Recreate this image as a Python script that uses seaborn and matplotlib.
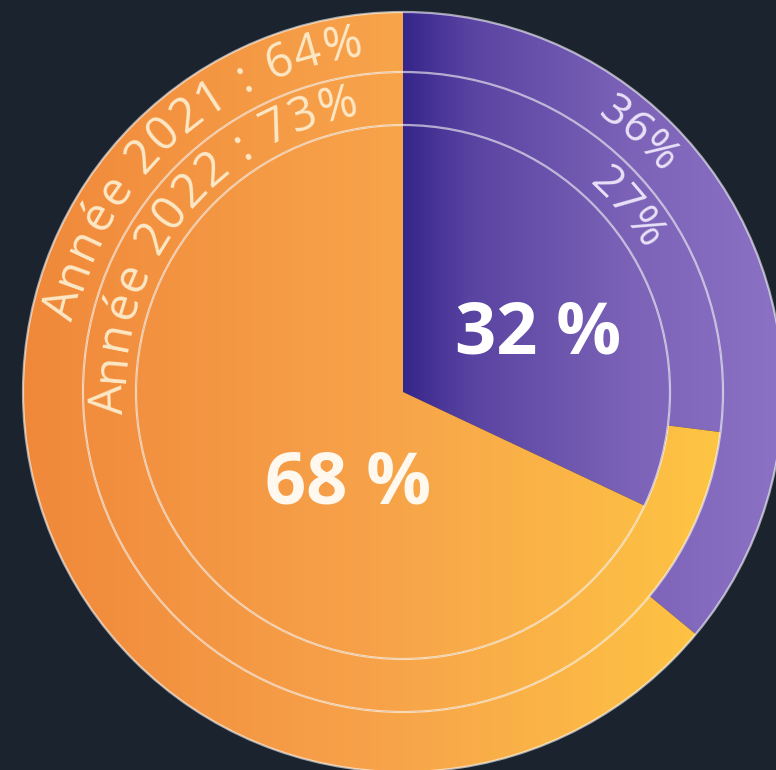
import numpy as np
import matplotlib
matplotlib.use('Agg')
import matplotlib.pyplot as plt
from matplotlib.colors import LinearSegmentedColormap
import seaborn as sns

sns.set_theme(style='white')
plt.rcParams['font.family'] = ['Open Sans', 'DejaVu Sans']

# Data
years = ['2021', '2022']
purple_share = [36, 27]      # outer ring (2021), middle ring (2022)
orange_share = [64, 73]
total_share = [32, 68]       # inner pie: purple, orange

bg = '#1a232e'
fig = plt.figure(figsize=(7.76, 7.70), dpi=100, facecolor=bg)
ax = fig.add_axes([0, 0, 1, 1])
ax.set_facecolor(bg)

R_OUT, R_MID, R_IN = 380, 320, 267

orange_cmap = sns.blend_palette(['#F0883A', '#F7A24A', '#FEC543'], as_cmap=True)
purple_cmap = LinearSegmentedColormap.from_list(
    'purp', [(0, '#36268A'), (0.18, '#5A44A2'), (0.6, '#7C63B8'), (1, '#8C72C4')])
grad = np.linspace(0, 1, 512)[None, :]

rings = [
    ([purple_share[0], orange_share[0]], R_OUT, R_OUT - R_MID),
    ([purple_share[1], orange_share[1]], R_MID, R_MID - R_IN),
    (total_share, R_IN, None),
]

for vals, r, w in rings:
    wp = dict(linewidth=0)
    if w is not None:
        wp['width'] = w
    wedges, _ = ax.pie(vals, radius=r, startangle=90, counterclock=False,
                       colors=['none', 'none'], wedgeprops=wp)
    # gradient fills clipped to each wedge
    im = ax.imshow(grad, cmap=purple_cmap, extent=(0, 380, -380, 392),
                   aspect='auto', zorder=1, interpolation='bicubic')
    im.set_clip_path(wedges[0])
    im = ax.imshow(grad, cmap=orange_cmap, extent=(-385, 322, -380, 392),
                   aspect='auto', zorder=1, interpolation='bicubic')
    im.set_clip_path(wedges[1])

for r in [R_OUT, R_MID, R_IN]:
    ax.add_patch(plt.Circle((0, 0), r, fill=False, ec='white', alpha=0.6,
                            lw=1.6, zorder=3))

ax.set_xlim(-403, 373)
ax.set_ylim(-378, 392)
ax.set_aspect('auto')
ax.axis('off')

renderer = fig.canvas.get_renderer()


def text_width(s, size, weight):
    t = ax.text(0, 0, s + '|', fontsize=size, weight=weight)
    wid = t.get_window_extent(renderer).width
    t.remove()
    return wid


def arc_text(s, r, theta_mid, size, color, weight='normal', track=0.0):
    bar = text_width('', size, weight)
    pref = [text_width(s[:i], size, weight) - bar + i * track
            for i in range(len(s) + 1)]
    total = pref[-1] - track
    for i, ch in enumerate(s):
        if ch == ' ':
            continue
        off = (pref[i] + pref[i + 1] - track) / 2 - total / 2
        ang = np.radians(theta_mid) - off / r
        ax.text(r * np.cos(ang), r * np.sin(ang), ch, fontsize=size,
                weight=weight, color=color, ha='center', va='center',
                rotation=np.degrees(ang) - 90, rotation_mode='anchor',
                zorder=4)


ring_font = 34
arc_text(f'Année {years[0]} : {orange_share[0]}%', 351, 132.3, ring_font,
         '#FDE8C6', track=3)
arc_text(f'Année {years[1]} : {orange_share[1]}%', 293, 141.7, ring_font,
         '#FDE8C6', track=3)
arc_text(f'{purple_share[0]}%', 349, 47.6, 32, '#E9E1F8', track=1)
arc_text(f'{purple_share[1]}%', 291, 39.4, 32, '#E9E1F8', track=1)

ax.text(135, 39, f'{total_share[0]} %', fontsize=52, weight='bold',
        color='white', ha='center', va='baseline', zorder=4)
ax.text(-55, -111, f'{total_share[1]} %', fontsize=52, weight='bold',
        color='#FFF8EE', ha='center', va='baseline', zorder=4)

fig.savefig('out.png', dpi=100, facecolor=bg)
